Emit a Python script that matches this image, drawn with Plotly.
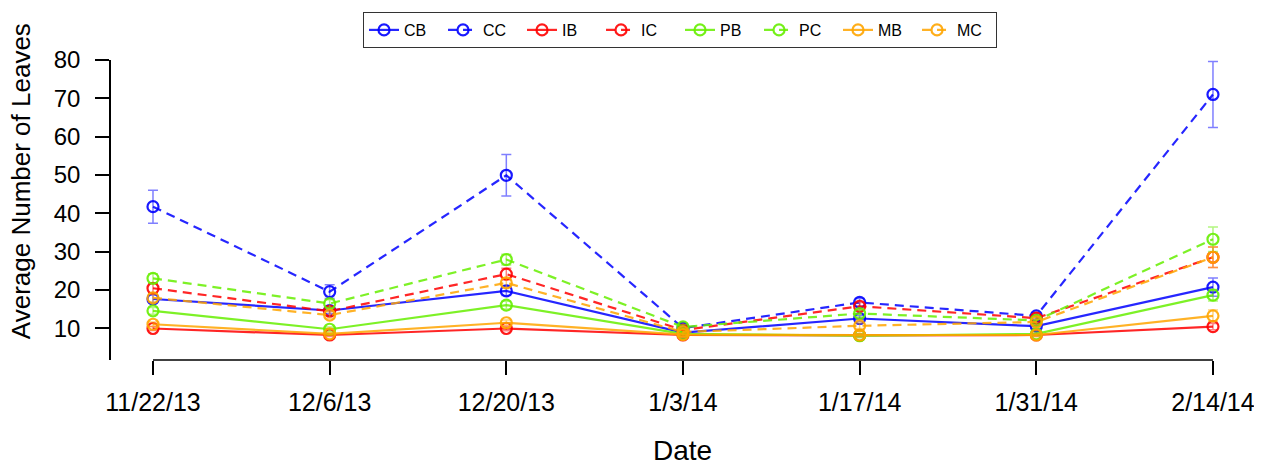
import plotly.graph_objects as go

dates = ["11/22/13", "12/6/13", "12/20/13", "1/3/14", "1/17/14", "1/31/14", "2/14/14"]

CB = [17.6, 14.6, 19.7, 8.8, 12.5, 10.5, 20.7]
CC = [41.7, 19.5, 49.9, 10.0, 16.7, 13.2, 71.0]
IB = [9.9, 8.2, 9.9, 8.2, 8.1, 8.2, 10.4]
IC = [20.4, 14.4, 24.1, 9.5, 15.7, 12.6, 28.5]
PB = [14.5, 9.7, 16.0, 8.5, 8.0, 8.5, 18.6]
PC = [23.0, 16.4, 27.9, 10.3, 13.8, 12.0, 33.2]
MB = [11.0, 8.5, 11.4, 8.3, 8.2, 8.2, 13.2]
MC = [17.9, 13.4, 21.8, 9.0, 10.6, 11.6, 28.5]

CB_err = [1.0, 0.8, 1.2, 0.5, 0.8, 0.6, 2.4]
CC_err = [4.3, 1.8, 5.4, 0.6, 1.0, 0.8, 8.6]
IB_err = [0.5, 0.4, 0.6, 0.4, 0.4, 0.4, 0.8]
IC_err = [1.2, 1.0, 1.5, 0.6, 1.0, 0.8, 2.7]
PB_err = [0.9, 0.6, 1.0, 0.5, 0.5, 0.5, 1.5]
PC_err = [1.2, 1.0, 1.4, 0.6, 0.9, 0.8, 3.2]
MB_err = [0.6, 0.4, 0.7, 0.4, 0.4, 0.4, 1.5]
MC_err = [1.0, 0.9, 1.2, 0.5, 0.7, 0.7, 2.7]

series = [
    ("CB", CB, CB_err, "0,0,255", "solid"),
    ("CC", CC, CC_err, "0,0,255", "dashed"),
    ("IB", IB, IB_err, "255,0,0", "solid"),
    ("IC", IC, IC_err, "255,0,0", "dashed"),
    ("PB", PB, PB_err, "102,238,0", "solid"),
    ("PC", PC, PC_err, "102,238,0", "dashed"),
    ("MB", MB, MB_err, "255,165,0", "solid"),
    ("MC", MC, MC_err, "255,165,0", "dashed"),
]

FONT = "Liberation Sans, Arial, Helvetica, sans-serif"

fig = go.Figure()
for name, vals, errs, rgb, style in series:
    fig.add_trace(go.Scatter(
        x=dates, y=vals, name=name, mode="lines+markers",
        line=dict(color=f"rgba({rgb},0.85)", width=2.2,
                  dash="solid" if style == "solid" else "9px,6px"),
        marker=dict(symbol="circle-open", size=11,
                    color=f"rgba({rgb},0.9)", line=dict(width=2.2)),
        error_y=dict(type="data", array=errs, visible=True,
                     color=f"rgba({rgb},0.5)", thickness=1.5, width=5),
    ))

fig.add_shape(type="line", xref="x", yref="paper", x0=dates[0], x1=dates[-1],
              y0=0, y1=0, line=dict(color="black", width=1.5))

fig.update_layout(
    width=1262, height=464,
    margin=dict(l=103, r=30, t=52, b=112, autoexpand=False),
    plot_bgcolor="white", paper_bgcolor="white",
    font=dict(family=FONT, color="black"),
    showlegend=True,
    legend=dict(orientation="h", x=0.504, xanchor="center", y=1.16, yanchor="top",
                bordercolor="#333333", borderwidth=1, font=dict(size=16),
                entrywidth=34, entrywidthmode="pixels", bgcolor="white"),
    xaxis=dict(type="category", range=[-0.2377, 6.153], showgrid=False, zeroline=False,
               showline=False, ticks="outside", ticklen=14, tickwidth=1.5,
               tickcolor="black", tickfont=dict(size=25), ticklabelstandoff=6),
    yaxis=dict(range=[1.67, 80], showgrid=False, zeroline=False, showline=True,
               linecolor="black", linewidth=1.5, ticks="outside", ticklen=14,
               tickwidth=1.5, tickcolor="black", tickvals=[10, 20, 30, 40, 50, 60, 70, 80],
               tickfont=dict(size=24), ticklabelstandoff=10),
    annotations=[
        dict(text="Date", xref="x", yref="paper", x=dates[3], y=-0.3,
             xanchor="center", yanchor="middle", showarrow=False,
             font=dict(size=28)),
        dict(text="Average Number of Leaves", xref="paper", yref="paper",
             x=-0.08, y=0.595, xanchor="center", yanchor="middle",
             showarrow=False, textangle=-90, font=dict(size=26)),
    ],
)

fig.write_html("out.html")
